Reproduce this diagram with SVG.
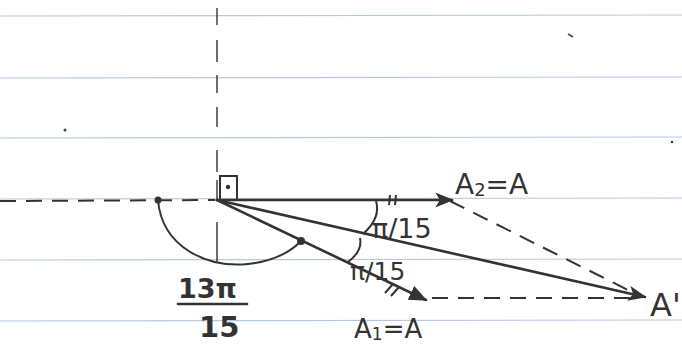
<svg xmlns="http://www.w3.org/2000/svg" width="682" height="347" viewBox="0 0 682 347">
<defs>
<style>
.rule{stroke:#b9c6de;stroke-width:1.2}
.ln{stroke:#333;stroke-width:2.6;fill:none;stroke-linecap:round}
.dsh{stroke:#333;stroke-width:2;fill:none;stroke-dasharray:16 10}
.thin{stroke:#333;stroke-width:2;fill:none}
.lbl{font-family:"DejaVu Sans","Liberation Sans",sans-serif;fill:#333}
</style>
<marker id="arr" viewBox="0 0 12 10" refX="11" refY="5" markerWidth="7" markerHeight="6" orient="auto" markerUnits="strokeWidth">
<path d="M0,0 L12,5 L0,10 L3,5 Z" fill="#333"/>
</marker>
<marker id="tri" viewBox="0 0 12 10" refX="11" refY="5" markerWidth="7" markerHeight="6" orient="auto" markerUnits="strokeWidth">
<path d="M0,0 L12,5 L0,10 Z" fill="#333"/>
</marker>
</defs>
<rect width="682" height="347" fill="#fff"/>
<g id="paper">
<line class="rule" x1="0" y1="16" x2="682" y2="15"/>
<line class="rule" x1="0" y1="78" x2="682" y2="77"/>
<line class="rule" x1="0" y1="138" x2="682" y2="137"/>
<line class="rule" x1="0" y1="199" x2="682" y2="198"/>
<line class="rule" x1="0" y1="260" x2="682" y2="259"/>
<line class="rule" x1="0" y1="321" x2="682" y2="320"/>
<circle cx="65" cy="130" r="1.5" fill="#444"/>
<circle cx="672" cy="142" r="1.3" fill="#444"/>
<path d="M568,34 l5,3" stroke="#444" stroke-width="1.5"/>
</g>
<g id="axes">
<path stroke="#333" stroke-width="1.4" fill="none" d="M217,8 V25 M217,40 V62 M217,75 V93 M217,107 V127 M217,150 V172 M217,180 V200 M217,222 V262"/>
<line class="dsh" x1="0" y1="201" x2="215" y2="200" stroke-width="2.6" stroke-dasharray="18 9"/>
</g>
<g id="connectors">
<line id="OA2" class="ln" x1="217" y1="200" x2="452" y2="200" marker-end="url(#arr)"/>
<line id="OAp" class="ln" x1="217" y1="200" x2="645" y2="297" marker-end="url(#arr)"/>
<line id="OA1" class="ln" x1="217" y1="200" x2="426" y2="300" marker-end="url(#tri)"/>
<line id="A2Ap" class="dsh" x1="450" y1="201" x2="632" y2="292"/>
<line id="A1Ap" class="dsh" x1="432" y1="298" x2="630" y2="298"/>
</g>
<g id="marks">
<path class="thin" d="M220,200 V176 H237 V200" stroke-width="2.6"/>
<circle cx="228" cy="187" r="2.2" fill="#333"/>
<path class="thin" d="M158,200 C162,248 208,268 248,264 C275,261 290,252 300,242"/>
<circle cx="158" cy="200" r="3.5" fill="#333"/>
<circle cx="301" cy="241" r="4" fill="#333"/>
<path class="thin" d="M376,201 C380,214 372,226 363,234"/>
<path class="thin" d="M360,238 C362,248 356,256 348,262"/>
<path class="thin" d="M390,195 l-1,10 M396,195 l-1,10"/>
<path class="thin" d="M385,293 l8,-9 M391,296 l8,-9"/>
</g>
<g id="labels">
<text class="lbl" x="455" y="194" font-size="28">A<tspan font-size="18" dy="2">2</tspan><tspan dy="-2">=A</tspan></text>
<text class="lbl" x="372" y="238" font-size="27">π/15</text>
<text class="lbl" x="350" y="280" font-size="25">π/15</text>
<text class="lbl" x="178" y="298" font-size="27" font-weight="bold">13π</text>
<line class="ln" x1="178" y1="304" x2="247" y2="304" stroke-width="4"/>
<text class="lbl" x="199" y="337" font-size="29" font-weight="bold">15</text>
<text class="lbl" x="354" y="338" font-size="26">A<tspan font-size="17" dy="2">1</tspan><tspan dy="-2">=A</tspan></text>
<text class="lbl" x="650" y="316" font-size="32">A'</text>
</g>
</svg>
